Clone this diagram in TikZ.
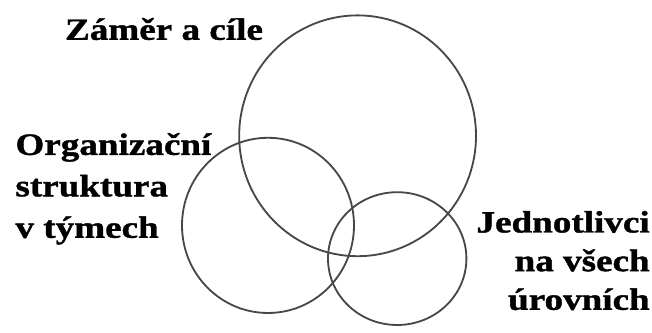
\documentclass[tikz,border=0pt]{standalone}
\usepackage{fontspec}
\setmainfont{Liberation Serif}
\newfontfamily\tagfont{Liberation Serif Bold}[FakeStretch=1.2,FakeBold=1.2]
\tikzset{
  ring/.style={draw=black!72,line width=1.3pt},
  tagtext/.style={font=\tagfont\fontsize{22}{29.5}\selectfont,text=black,inner sep=0pt},
}

\begin{document}
\begin{tikzpicture}[x=1cm,y=1cm]
  \useasboundingbox (0,0) rectangle (16.30,8.325);

  % Three overlapping circles.
  \draw[ring] (8.94,4.93) ellipse [x radius=2.96,y radius=3.01];
  \draw[ring] (6.70,2.69) ellipse [x radius=2.15,y radius=2.19];
  \draw[ring] (9.93,1.86) ellipse [x radius=1.73,y radius=1.66];

  % Labels (base anchor sits on the last line).
  \node[tagtext,anchor=base west] (aims) at (1.62,7.33) {Záměr a cíle};
  \node[tagtext,anchor=base west,align=left] (teams) at (0.38,2.38)
    {Organizační\\struktura\\v týmech};
  \node[tagtext,anchor=base east,align=right,
        font=\tagfont\fontsize{22}{27.5}\selectfont] (people) at (16.25,0.58)
    {Jednotlivci\\na všech\\úrovních};
\end{tikzpicture}
\end{document}
